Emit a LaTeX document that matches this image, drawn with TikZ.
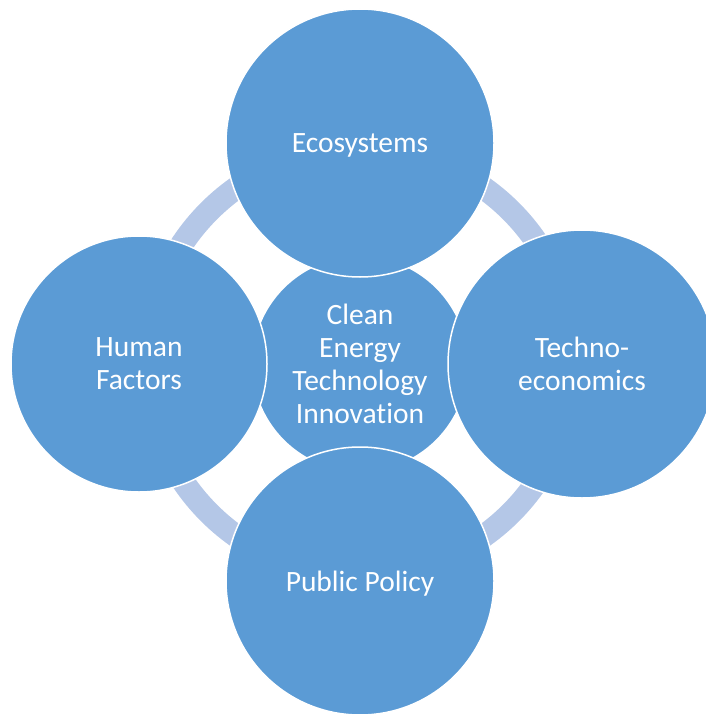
\documentclass[tikz,border=0pt]{standalone}
\usepackage{fontspec}
\setmainfont{Carlito}[Ligatures=NoCommon]
\usepackage{tikz}
\usetikzlibrary{positioning}

\definecolor{petal}{HTML}{5B9BD5}
\definecolor{ringblue}{HTML}{B4C7E7}

\begin{document}
\begin{tikzpicture}[x=1pt,y=-1pt,
        field/.style={shape=circle,fill=petal,draw=white,line width=1.5pt,inner sep=0pt,
            text=white,align=center,font=\fontsize{29.5}{33}\selectfont}]

            \useasboundingbox (0,0) rectangle (705,714);

            % Ring behind the circles
            \coordinate (mid) at (360,362);
            \draw[ringblue,line width=23pt] (mid) circle[radius=213.5pt];

            % Core node
            \node[field,minimum size=216pt] (core) at (360,364) {Clean\\Energy\\Technology\\Innovation};

            % Outer nodes
            \node[field,minimum size=268pt,text depth=0pt] (eco) at (360,143) {Ecosystems};
            \node[field,minimum size=256pt] (human) at (139,364) {Human\\Factors};
            \node[field,minimum size=268pt] (techno) at (582,364) {Techno-\\economics};
            \node[field,minimum size=268pt,text depth=0pt] (policy) at (360,581) {Public Policy};

        \end{tikzpicture}
\end{document}
